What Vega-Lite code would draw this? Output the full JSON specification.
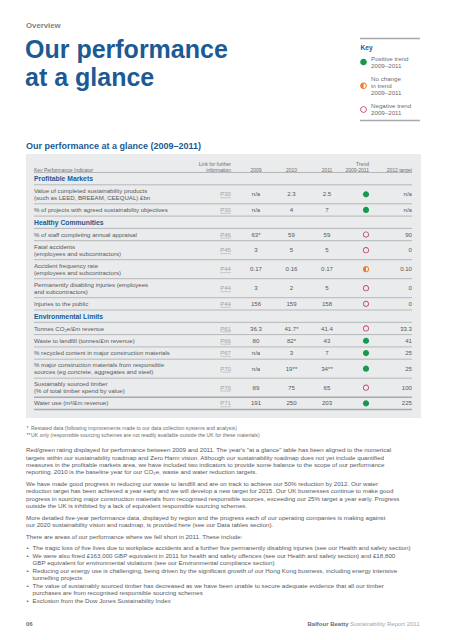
{
"$schema": "https://vega.github.io/schema/vega-lite/v6.json",
"width": 453, "height": 640,
"autosize": {"type": "fit", "contains": "padding"},
"padding": 0,
"background": "#ffffff",
"config": {"view": {"stroke": null}, "text": {"font": "Liberation Sans", "color": "#58595b"}},
"datasets": {
"heading": [
 {"part": "section", "text": "Overview"},
 {"part": "title", "text": ["Our performance", "at a glance"]},
 {"part": "subtitle", "text": "Our performance at a glance (2009–2011)"},
 {"part": "key", "text": "Key"}
],
"key": [
 {"item": 1, "trend": "Positive", "label": ["Positive trend", "2009–2011"]},
 {"item": 2, "trend": "No change", "label": ["No change", "in trend", "2009–2011"]},
 {"item": 3, "trend": "Negative", "label": ["Negative trend", "2009–2011"]}
],
"heads": [
 {"col": "kpi", "label": ["Key Performance Indicator"]},
 {"col": "link", "label": ["Link for further", "information"]},
 {"col": "2009", "label": ["2009"]},
 {"col": "2010", "label": ["2010"]},
 {"col": "2011", "label": ["2011"]},
 {"col": "trend", "label": ["Trend", "2009-2011"]},
 {"col": "target", "label": ["2012 target"]}
],
"kpis": [
 {"row": 1, "section": "Profitable Markets"},
 {"row": 2, "kpi": ["Value of completed sustainability products", "(such as LEED, BREEAM, CEEQUAL) £bn"], "link": "P30", "v2009": "n/a", "v2010": "2.3", "v2011": "2.5", "trend": "Positive", "target2012": "n/a"},
 {"row": 3, "kpi": ["% of projects with agreed sustainability objectives"], "link": "P30", "v2009": "n/a", "v2010": "4", "v2011": "7", "trend": "Positive", "target2012": "n/a"},
 {"row": 4, "section": "Healthy Communities"},
 {"row": 5, "kpi": ["% of staff completing annual appraisal"], "link": "P46", "v2009": "63*", "v2010": "59", "v2011": "59", "trend": "Negative", "target2012": "90"},
 {"row": 6, "kpi": ["Fatal accidents", "(employees and subcontractors)"], "link": "P45", "v2009": "3", "v2010": "5", "v2011": "5", "trend": "Negative", "target2012": "0"},
 {"row": 7, "kpi": ["Accident frequency rate", "(employees and subcontractors)"], "link": "P44", "v2009": "0.17", "v2010": "0.16", "v2011": "0.17", "trend": "No change", "target2012": "0.10"},
 {"row": 8, "kpi": ["Permanently disabling injuries (employees", "and subcontractors)"], "link": "P44", "v2009": "3", "v2010": "2", "v2011": "5", "trend": "Negative", "target2012": "0"},
 {"row": 9, "kpi": ["Injuries to the public"], "link": "P44", "v2009": "156", "v2010": "159", "v2011": "158", "trend": "Negative", "target2012": "0"},
 {"row": 10, "section": "Environmental Limits"},
 {"row": 11, "kpi": ["Tonnes CO₂e/£m revenue"], "link": "P61", "v2009": "36.3", "v2010": "41.7*", "v2011": "41.4", "trend": "Negative", "target2012": "33.3"},
 {"row": 12, "kpi": ["Waste to landfill (tonnes/£m revenue)"], "link": "P66", "v2009": "80", "v2010": "82*", "v2011": "43", "trend": "Positive", "target2012": "41"},
 {"row": 13, "kpi": ["% recycled content in major construction materials"], "link": "P67", "v2009": "n/a", "v2010": "3", "v2011": "7", "trend": "Positive", "target2012": "25"},
 {"row": 14, "kpi": ["% major construction materials from responsible", "sources (eg concrete, aggregates and steel)"], "link": "P70", "v2009": "n/a", "v2010": "19**", "v2011": "34**", "trend": "Positive", "target2012": "25"},
 {"row": 15, "kpi": ["Sustainably sourced timber", "(% of total timber spend by value)"], "link": "P70", "v2009": "89", "v2010": "75", "v2011": "65", "trend": "Negative", "target2012": "100"},
 {"row": 16, "kpi": ["Water use (m³/£m revenue)"], "link": "P71", "v2009": "191", "v2010": "250", "v2011": "203", "trend": "Positive", "target2012": "225"}
],
"notes": [
 {"item": 1, "mark": "*", "note": "Restated data (following improvements made to our data collection systems and analysis)"},
 {"item": 2, "mark": "**", "note": "UK only (responsible sourcing schemes are not readily available outside the UK for these materials)"}
],
"body": [
 {"item": 1, "block": 1, "bullet": false, "text": ["Red/green rating displayed for performance between 2009 and 2011. The year's \"at a glance\" table has been aligned to the numerical", "targets within our sustainability roadmap and Zero Harm vision. Although our sustainability roadmap does not yet include quantified", "measures in the profitable markets area, we have included two indicators to provide some balance to the scope of our performance", "reporting. 2010 is the baseline year for our CO₂e, waste and water reduction targets."]},
 {"item": 2, "block": 2, "bullet": false, "text": ["We have made good progress in reducing our waste to landfill and are on track to achieve our 50% reduction by 2012. Our water", "reduction target has been achieved a year early and we will develop a new target for 2015. Our UK businesses continue to make good", "progress in sourcing major construction materials from recognised responsible sources, exceeding our 25% target a year early. Progress", "outside the UK is inhibited by a lack of equivalent responsible sourcing schemes."]},
 {"item": 3, "block": 3, "bullet": false, "text": ["More detailed five-year performance data, displayed by region and the progress each of our operating companies is making against", "our 2020 sustainability vision and roadmap, is provided here (see our Data tables section)."]},
 {"item": 4, "block": 4, "bullet": false, "text": ["There are areas of our performance where we fell short in 2011. These include:"]},
 {"item": 5, "block": 5, "bullet": true, "text": ["The tragic loss of five lives due to workplace accidents and a further five permanently disabling injuries (see our Health and safety section)"]},
 {"item": 6, "block": 5, "bullet": true, "text": ["We were also fined £163,000 GBP equivalent in 2011 for health and safety offences (see our Health and safety section) and £18,800", "GBP equivalent for environmental violations (see our Environmental compliance section)"]},
 {"item": 7, "block": 5, "bullet": true, "text": ["Reducing our energy use is challenging, being driven by the significant growth of our Hong Kong business, including energy intensive", "tunnelling projects"]},
 {"item": 8, "block": 5, "bullet": true, "text": ["The value of sustainably sourced timber has decreased as we have been unable to secure adequate evidence that all our timber", "purchases are from recognised responsible sourcing schemes"]},
 {"item": 9, "block": 5, "bullet": true, "text": ["Exclusion from the Dow Jones Sustainability Index"]}
],
"footer": [
 {"part": "page", "text": "06"},
 {"part": "brand", "text": "Balfour Beatty"},
 {"part": "report", "text": "Sustainability Report 2011"}
]
},
"layer": [
{
 "data": {"values": [{"panel": "table"}]},
 "mark": {"type": "rect", "color": "#eaebec"},
 "encoding": {
  "x": {"datum": 26, "type": "quantitative", "scale": {"domain": [0, 453], "nice": false, "zero": false}, "axis": null},
  "x2": {"datum": 421},
  "y": {"datum": 154, "type": "quantitative", "scale": {"domain": [0, 640], "nice": false, "zero": false, "reverse": true}, "axis": null},
  "y2": {"datum": 418}
 }
},
{
 "data": {"name": "heading"},
 "transform": [{"filter": "datum.part == 'section'"}],
 "mark": {"type": "text", "align": "left", "baseline": "alphabetic", "fontSize": 7.8, "fontWeight": "bold", "color": "#808285"},
 "encoding": {
  "text": {"field": "text"},
  "x": {"datum": 26, "type": "quantitative", "scale": {"domain": [0, 453], "nice": false, "zero": false}, "axis": null},
  "y": {"datum": 27.5, "type": "quantitative", "scale": {"domain": [0, 640], "nice": false, "zero": false, "reverse": true}, "axis": null}
 }
},
{
 "data": {"name": "heading"},
 "transform": [{"filter": "datum.part == 'title'"}],
 "mark": {"type": "text", "align": "left", "baseline": "alphabetic", "fontSize": 25, "fontWeight": "bold", "lineHeight": 27.5, "lineBreak": "\n", "color": "#1b5a94"},
 "encoding": {
  "text": {"field": "text"},
  "x": {"datum": 25, "type": "quantitative", "scale": {"domain": [0, 453], "nice": false, "zero": false}, "axis": null},
  "y": {"datum": 58, "type": "quantitative", "scale": {"domain": [0, 640], "nice": false, "zero": false, "reverse": true}, "axis": null}
 }
},
{
 "data": {"name": "heading"},
 "transform": [{"filter": "datum.part == 'subtitle'"}],
 "mark": {"type": "text", "align": "left", "baseline": "alphabetic", "fontSize": 9, "fontWeight": "bold", "color": "#1b5a94"},
 "encoding": {
  "text": {"field": "text"},
  "x": {"datum": 26, "type": "quantitative", "scale": {"domain": [0, 453], "nice": false, "zero": false}, "axis": null},
  "y": {"datum": 149.2, "type": "quantitative", "scale": {"domain": [0, 640], "nice": false, "zero": false, "reverse": true}, "axis": null}
 }
},
{
 "data": {"name": "heading"},
 "transform": [{"filter": "datum.part == 'key'"}],
 "mark": {"type": "text", "align": "left", "baseline": "alphabetic", "fontSize": 6.6, "fontWeight": "bold", "color": "#1b5a94"},
 "encoding": {
  "text": {"field": "text"},
  "x": {"datum": 360.5, "type": "quantitative", "scale": {"domain": [0, 453], "nice": false, "zero": false}, "axis": null},
  "y": {"datum": 50.3, "type": "quantitative", "scale": {"domain": [0, 640], "nice": false, "zero": false, "reverse": true}, "axis": null}
 }
},
{
 "data": {"values": [{"edge": "top"}, {"edge": "bottom"}]},
 "transform": [{"calculate": "datum.edge == 'top' ? 38.5 : 120.5", "as": "ry"}],
 "mark": {"type": "rule", "color": "#a7a9ac", "strokeWidth": 1.4},
 "encoding": {
  "x": {"datum": 360, "type": "quantitative", "scale": {"domain": [0, 453], "nice": false, "zero": false}, "axis": null},
  "x2": {"datum": 420},
  "y": {"field": "ry", "type": "quantitative", "scale": {"domain": [0, 640], "nice": false, "zero": false, "reverse": true}, "axis": null}
 }
},
{
 "data": {"name": "key"},
 "transform": [
  {"calculate": "38.25 + 23.75 * datum.item", "as": "ky"},
  {"calculate": "datum.ky - (length(datum.label) - 1) * 3.7 + 2.2", "as": "kb"}
 ],
 "layer": [
  {
   "mark": {"type": "point", "filled": true, "opacity": 1, "strokeWidth": 0, "size": 44},
   "encoding": {
    "x": {"datum": 363.5, "type": "quantitative", "scale": {"domain": [0, 453], "nice": false, "zero": false}, "axis": null},
    "y": {"field": "ky", "type": "quantitative", "scale": {"domain": [0, 640], "nice": false, "zero": false, "reverse": true}, "axis": null},
    "color": {"field": "trend", "type": "nominal", "scale": {"domain": ["Positive", "No change", "Negative"], "range": ["#17994d", "#ee7b26", "#c8447f"]}, "legend": null},
    "shape": {"field": "trend", "type": "nominal", "scale": {"domain": ["Positive", "No change", "Negative"], "range": ["M0,-1A1,1,0,1,1,0,1A1,1,0,1,1,0,-1Z", "M0,-1A1,1,0,1,1,0,1A1,1,0,1,1,0,-1ZM0,-0.7L0,0.7A0.7,0.7,0,0,0,0,-0.7Z", "M0,-1A1,1,0,1,1,0,1A1,1,0,1,1,0,-1ZM0,-0.72A0.72,0.72,0,1,0,0,0.72A0.72,0.72,0,1,0,0,-0.72Z"]}, "legend": null}
   }
  },
  {
   "mark": {"type": "text", "align": "left", "baseline": "alphabetic", "fontSize": 6.2, "lineHeight": 7.4, "lineBreak": "\n", "color": "#6d6e71"},
   "encoding": {
    "text": {"field": "label"},
    "x": {"datum": 371, "type": "quantitative", "scale": {"domain": [0, 453], "nice": false, "zero": false}, "axis": null},
    "y": {"field": "kb", "type": "quantitative", "scale": {"domain": [0, 640], "nice": false, "zero": false, "reverse": true}, "axis": null}
   }
  }
 ]
},
{
 "data": {"name": "heads"},
 "transform": [
  {"calculate": "171.8 - (length(datum.label) - 1) * 5.8", "as": "hb"},
  {"calculate": "datum.col == 'kpi' ? 34 : datum.col == 'link' ? 231 : datum.col == '2009' ? 256 : datum.col == '2010' ? 291.5 : datum.col == '2011' ? 327 : datum.col == 'trend' ? 369 : 412", "as": "hx"}
 ],
 "layer": [
  {
   "transform": [{"filter": "datum.col == 'kpi'"}],
   "mark": {"type": "text", "align": "left", "baseline": "alphabetic", "fontSize": 5, "lineHeight": 5.8, "lineBreak": "\n", "color": "#6d6e71"},
   "encoding": {
    "text": {"field": "label"},
    "x": {"field": "hx", "type": "quantitative", "scale": {"domain": [0, 453], "nice": false, "zero": false}, "axis": null},
    "y": {"field": "hb", "type": "quantitative", "scale": {"domain": [0, 640], "nice": false, "zero": false, "reverse": true}, "axis": null}
   }
  },
  {
   "transform": [{"filter": "datum.col == 'link' || datum.col == 'trend' || datum.col == 'target'"}],
   "mark": {"type": "text", "align": "right", "baseline": "alphabetic", "fontSize": 5, "lineHeight": 5.8, "lineBreak": "\n", "color": "#6d6e71"},
   "encoding": {
    "text": {"field": "label"},
    "x": {"field": "hx", "type": "quantitative", "scale": {"domain": [0, 453], "nice": false, "zero": false}, "axis": null},
    "y": {"field": "hb", "type": "quantitative", "scale": {"domain": [0, 640], "nice": false, "zero": false, "reverse": true}, "axis": null}
   }
  },
  {
   "transform": [{"filter": "datum.col == '2009' || datum.col == '2010' || datum.col == '2011'"}],
   "mark": {"type": "text", "align": "center", "baseline": "alphabetic", "fontSize": 5, "lineHeight": 5.8, "lineBreak": "\n", "color": "#6d6e71"},
   "encoding": {
    "text": {"field": "label"},
    "x": {"field": "hx", "type": "quantitative", "scale": {"domain": [0, 453], "nice": false, "zero": false}, "axis": null},
    "y": {"field": "hb", "type": "quantitative", "scale": {"domain": [0, 640], "nice": false, "zero": false, "reverse": true}, "axis": null}
   }
  }
 ]
},
{
 "data": {"name": "kpis"},
 "transform": [
  {"calculate": "isArray(datum.kpi) ? length(datum.kpi) : 1", "as": "n"},
  {"calculate": "datum.n == 2 ? 19 : 12.3", "as": "h"},
  {"window": [{"op": "sum", "field": "h", "as": "cum"}], "sort": [{"field": "row", "order": "ascending"}], "frame": [null, 0]},
  {"calculate": "172.5 + datum.cum", "as": "yb"},
  {"calculate": "datum.yb - datum.h", "as": "yt"},
  {"calculate": "datum.yb - datum.h / 2", "as": "ym"},
  {"calculate": "datum.ym - (datum.n - 1) * 3.4 + 2.1", "as": "kb"},
  {"calculate": "datum.ym + 2.1", "as": "vb"},
  {"calculate": "datum.ym + 2.4", "as": "sb"},
  {"calculate": "datum.ym + 3.4", "as": "ub"}
 ],
 "layer": [
  {
   "mark": {"type": "rule", "color": "#a7a9ac"},
   "encoding": {
    "x": {"datum": 34, "type": "quantitative", "scale": {"domain": [0, 453], "nice": false, "zero": false}, "axis": null},
    "x2": {"datum": 412},
    "y": {"field": "yb", "type": "quantitative", "scale": {"domain": [0, 640], "nice": false, "zero": false, "reverse": true}, "axis": null},
    "strokeWidth": {"condition": {"test": "datum.row >= 15", "value": 1.6}, "value": 0.8}
   }
  },
  {
   "transform": [{"filter": "datum.row == 1"}],
   "mark": {"type": "rule", "color": "#a7a9ac", "strokeWidth": 0.8},
   "encoding": {
    "x": {"datum": 34, "type": "quantitative", "scale": {"domain": [0, 453], "nice": false, "zero": false}, "axis": null},
    "x2": {"datum": 412},
    "y": {"field": "yt", "type": "quantitative", "scale": {"domain": [0, 640], "nice": false, "zero": false, "reverse": true}, "axis": null}
   }
  },
  {
   "transform": [{"filter": "isValid(datum.section)"}],
   "mark": {"type": "text", "align": "left", "baseline": "alphabetic", "fontSize": 6.8, "fontWeight": "bold", "color": "#1b5a94"},
   "encoding": {
    "text": {"field": "section"},
    "x": {"datum": 34, "type": "quantitative", "scale": {"domain": [0, 453], "nice": false, "zero": false}, "axis": null},
    "y": {"field": "sb", "type": "quantitative", "scale": {"domain": [0, 640], "nice": false, "zero": false, "reverse": true}, "axis": null}
   }
  },
  {
   "transform": [{"filter": "isValid(datum.kpi)"}],
   "layer": [
    {
     "mark": {"type": "text", "align": "left", "baseline": "alphabetic", "fontSize": 6.1, "lineHeight": 6.8, "lineBreak": "\n"},
     "encoding": {
      "text": {"field": "kpi"},
      "x": {"datum": 34, "type": "quantitative", "scale": {"domain": [0, 453], "nice": false, "zero": false}, "axis": null},
      "y": {"field": "kb", "type": "quantitative", "scale": {"domain": [0, 640], "nice": false, "zero": false, "reverse": true}, "axis": null}
     }
    },
    {
     "mark": {"type": "text", "align": "right", "baseline": "alphabetic", "fontSize": 6.1, "color": "#a2a4a7"},
     "encoding": {
      "text": {"field": "link"},
      "x": {"datum": 231, "type": "quantitative", "scale": {"domain": [0, 453], "nice": false, "zero": false}, "axis": null},
      "y": {"field": "vb", "type": "quantitative", "scale": {"domain": [0, 640], "nice": false, "zero": false, "reverse": true}, "axis": null}
     }
    },
    {
     "mark": {"type": "rule", "color": "#a2a4a7", "strokeWidth": 0.5},
     "encoding": {
      "x": {"datum": 220.3, "type": "quantitative", "scale": {"domain": [0, 453], "nice": false, "zero": false}, "axis": null},
      "x2": {"datum": 231},
      "y": {"field": "ub", "type": "quantitative", "scale": {"domain": [0, 640], "nice": false, "zero": false, "reverse": true}, "axis": null}
     }
    },
    {
     "mark": {"type": "text", "align": "center", "baseline": "alphabetic", "fontSize": 6.1},
     "encoding": {
      "text": {"field": "v2009"},
      "x": {"datum": 256, "type": "quantitative", "scale": {"domain": [0, 453], "nice": false, "zero": false}, "axis": null},
      "y": {"field": "vb", "type": "quantitative", "scale": {"domain": [0, 640], "nice": false, "zero": false, "reverse": true}, "axis": null}
     }
    },
    {
     "mark": {"type": "text", "align": "center", "baseline": "alphabetic", "fontSize": 6.1},
     "encoding": {
      "text": {"field": "v2010"},
      "x": {"datum": 291.5, "type": "quantitative", "scale": {"domain": [0, 453], "nice": false, "zero": false}, "axis": null},
      "y": {"field": "vb", "type": "quantitative", "scale": {"domain": [0, 640], "nice": false, "zero": false, "reverse": true}, "axis": null}
     }
    },
    {
     "mark": {"type": "text", "align": "center", "baseline": "alphabetic", "fontSize": 6.1},
     "encoding": {
      "text": {"field": "v2011"},
      "x": {"datum": 327, "type": "quantitative", "scale": {"domain": [0, 453], "nice": false, "zero": false}, "axis": null},
      "y": {"field": "vb", "type": "quantitative", "scale": {"domain": [0, 640], "nice": false, "zero": false, "reverse": true}, "axis": null}
     }
    },
    {
     "mark": {"type": "point", "filled": true, "opacity": 1, "strokeWidth": 0, "size": 38},
     "encoding": {
      "x": {"datum": 366, "type": "quantitative", "scale": {"domain": [0, 453], "nice": false, "zero": false}, "axis": null},
      "y": {"field": "ym", "type": "quantitative", "scale": {"domain": [0, 640], "nice": false, "zero": false, "reverse": true}, "axis": null},
      "color": {"field": "trend", "type": "nominal", "scale": {"domain": ["Positive", "No change", "Negative"], "range": ["#17994d", "#ee7b26", "#c8447f"]}, "legend": null},
      "shape": {"field": "trend", "type": "nominal", "scale": {"domain": ["Positive", "No change", "Negative"], "range": ["M0,-1A1,1,0,1,1,0,1A1,1,0,1,1,0,-1Z", "M0,-1A1,1,0,1,1,0,1A1,1,0,1,1,0,-1ZM0,-0.7L0,0.7A0.7,0.7,0,0,0,0,-0.7Z", "M0,-1A1,1,0,1,1,0,1A1,1,0,1,1,0,-1ZM0,-0.72A0.72,0.72,0,1,0,0,0.72A0.72,0.72,0,1,0,0,-0.72Z"]}, "legend": null}
     }
    },
    {
     "mark": {"type": "text", "align": "right", "baseline": "alphabetic", "fontSize": 6.1},
     "encoding": {
      "text": {"field": "target2012"},
      "x": {"datum": 412, "type": "quantitative", "scale": {"domain": [0, 453], "nice": false, "zero": false}, "axis": null},
      "y": {"field": "vb", "type": "quantitative", "scale": {"domain": [0, 640], "nice": false, "zero": false, "reverse": true}, "axis": null}
     }
    }
   ]
  }
 ]
},
{
 "data": {"name": "notes"},
 "transform": [{"calculate": "428.5 + 6.5 * (datum.item - 1) + 1.8", "as": "nb"}],
 "layer": [
  {
   "mark": {"type": "text", "align": "left", "baseline": "alphabetic", "fontSize": 5.2, "color": "#6d6e71"},
   "encoding": {
    "text": {"field": "mark"},
    "x": {"datum": 26.5, "type": "quantitative", "scale": {"domain": [0, 453], "nice": false, "zero": false}, "axis": null},
    "y": {"field": "nb", "type": "quantitative", "scale": {"domain": [0, 640], "nice": false, "zero": false, "reverse": true}, "axis": null}
   }
  },
  {
   "mark": {"type": "text", "align": "left", "baseline": "alphabetic", "fontSize": 5.2, "color": "#6d6e71"},
   "encoding": {
    "text": {"field": "note"},
    "x": {"datum": 31, "type": "quantitative", "scale": {"domain": [0, 453], "nice": false, "zero": false}, "axis": null},
    "y": {"field": "nb", "type": "quantitative", "scale": {"domain": [0, 640], "nice": false, "zero": false, "reverse": true}, "axis": null}
   }
  }
 ]
},
{
 "data": {"name": "body"},
 "transform": [
  {"calculate": "length(datum.text)", "as": "n"},
  {"window": [{"op": "sum", "field": "n", "as": "cum"}], "sort": [{"field": "item", "order": "ascending"}], "frame": [null, 0]},
  {"calculate": "450 + 7.45 * (datum.cum - datum.n) + 4.1 * (datum.block - 1) + 2.1", "as": "by"},
  {"calculate": "datum.bullet ? 32.5 : 26", "as": "bx"}
 ],
 "layer": [
  {
   "mark": {"type": "text", "align": "left", "baseline": "alphabetic", "fontSize": 6.2, "lineHeight": 7.45, "lineBreak": "\n"},
   "encoding": {
    "text": {"field": "text"},
    "x": {"field": "bx", "type": "quantitative", "scale": {"domain": [0, 453], "nice": false, "zero": false}, "axis": null},
    "y": {"field": "by", "type": "quantitative", "scale": {"domain": [0, 640], "nice": false, "zero": false, "reverse": true}, "axis": null}
   }
  },
  {
   "transform": [{"filter": "datum.bullet"}],
   "mark": {"type": "text", "align": "left", "baseline": "alphabetic", "fontSize": 6.2, "text": "•"},
   "encoding": {
    "x": {"datum": 26.5, "type": "quantitative", "scale": {"domain": [0, 453], "nice": false, "zero": false}, "axis": null},
    "y": {"field": "by", "type": "quantitative", "scale": {"domain": [0, 640], "nice": false, "zero": false, "reverse": true}, "axis": null}
   }
  }
 ]
},
{
 "data": {"name": "footer"},
 "layer": [
  {
   "transform": [{"filter": "datum.part == 'page'"}],
   "mark": {"type": "text", "align": "left", "baseline": "alphabetic", "fontSize": 6, "fontWeight": "bold", "color": "#6d6e71"},
   "encoding": {
    "text": {"field": "text"},
    "x": {"datum": 26, "type": "quantitative", "scale": {"domain": [0, 453], "nice": false, "zero": false}, "axis": null},
    "y": {"datum": 626.2, "type": "quantitative", "scale": {"domain": [0, 640], "nice": false, "zero": false, "reverse": true}, "axis": null}
   }
  },
  {
   "transform": [{"filter": "datum.part == 'brand'"}],
   "mark": {"type": "text", "align": "right", "baseline": "alphabetic", "fontSize": 6, "fontWeight": "bold", "color": "#6d6e71"},
   "encoding": {
    "text": {"field": "text"},
    "x": {"datum": 348.5, "type": "quantitative", "scale": {"domain": [0, 453], "nice": false, "zero": false}, "axis": null},
    "y": {"datum": 626.2, "type": "quantitative", "scale": {"domain": [0, 640], "nice": false, "zero": false, "reverse": true}, "axis": null}
   }
  },
  {
   "transform": [{"filter": "datum.part == 'report'"}],
   "mark": {"type": "text", "align": "left", "baseline": "alphabetic", "fontSize": 6, "color": "#a2a4a7"},
   "encoding": {
    "text": {"field": "text"},
    "x": {"datum": 350, "type": "quantitative", "scale": {"domain": [0, 453], "nice": false, "zero": false}, "axis": null},
    "y": {"datum": 626.2, "type": "quantitative", "scale": {"domain": [0, 640], "nice": false, "zero": false, "reverse": true}, "axis": null}
   }
  }
 ]
}
]
}
